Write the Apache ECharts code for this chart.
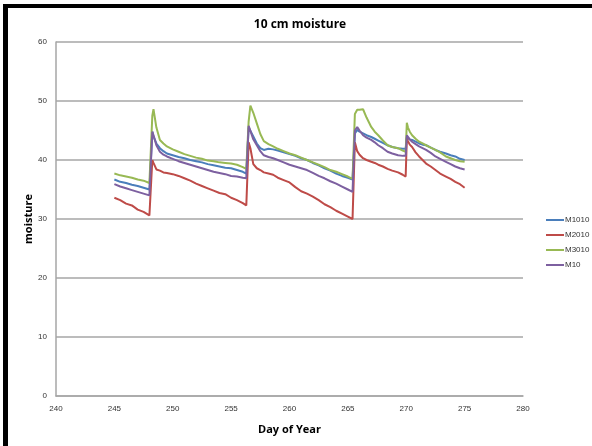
<!DOCTYPE html>
<html>
<head>
<meta charset="utf-8">
<script src="https://cdn.jsdelivr.net/npm/echarts@6/dist/echarts.min.js"></script>
<style>
  html, body { margin: 0; padding: 0; background: #fff; }
  #main { position: absolute; left: 0; top: 0; width: 592px; height: 446px; }
  .frame { position: absolute; background: #000; }
</style>
</head>
<body>
<div id="main"></div>
<div class="frame" style="left:3px; top:4px; width:5px; height:442px;"></div>
<div class="frame" style="left:3px; top:4px; width:589px; height:4px;"></div>
<script>
// day of year (shared by all four sensors)
var days = [245.0, 245.5, 246.0, 246.5, 247.0, 247.5, 248.0, 248.15, 248.25, 248.35,
  248.6, 248.9, 249.2, 249.5, 250.0, 250.5, 251.0, 251.5, 252.0, 252.5,
  253.0, 253.5, 254.0, 254.5, 255.0, 255.5, 256.0, 256.3, 256.4, 256.5,
  256.65, 256.9, 257.2, 257.5, 257.8, 258.2, 258.6, 259.0, 259.5, 260.0,
  260.5, 261.0, 261.5, 262.0, 262.5, 263.0, 263.5, 264.0, 264.5, 265.0,
  265.4, 265.5, 265.6, 265.8, 266.0, 266.3, 266.6, 267.0, 267.3, 267.6,
  268.0, 268.4, 268.8, 269.3, 269.7, 269.95, 270.05, 270.15, 270.3, 270.5,
  270.8, 271.1, 271.4, 271.7, 272.1, 272.5, 272.9, 273.4, 273.8, 274.2,
  274.6, 275.0];

var m1010 = [36.7, 36.3, 36.1, 35.8, 35.6, 35.3, 35.0, 34.9, 44.8, 44.0,
  42.8, 42.0, 41.5, 41.1, 40.8, 40.5, 40.3, 40.0, 39.8, 39.6,
  39.3, 39.1, 38.9, 38.7, 38.6, 38.3, 38.0, 37.7, 37.6, 45.5,
  45.6, 44.0, 42.8, 42.0, 41.7, 41.9, 41.8, 41.6, 41.3, 41.0,
  40.7, 40.3, 40.0, 39.5, 39.1, 38.6, 38.2, 37.7, 37.3, 37.0,
  36.7, 36.6, 44.5, 45.1, 44.8, 44.5, 44.2, 43.9, 43.6, 43.3,
  42.9, 42.5, 42.2, 42.0, 41.9, 41.9, 43.9, 43.7, 43.5, 43.4,
  43.1, 42.8, 42.6, 42.5, 42.1, 41.7, 41.4, 41.1, 40.8, 40.6,
  40.2, 40.0];

var m2010 = [33.6, 33.2, 32.6, 32.3, 31.6, 31.2, 30.6, 30.4, 40.0, 39.5,
  38.4, 38.2, 37.9, 37.8, 37.6, 37.3, 36.9, 36.5, 36.0, 35.6,
  35.2, 34.8, 34.4, 34.2, 33.6, 33.2, 32.7, 32.3, 32.1, 43.0,
  42.0, 39.3, 38.6, 38.3, 37.9, 37.7, 37.5, 37.0, 36.6, 36.2,
  35.4, 34.7, 34.3, 33.8, 33.2, 32.5, 32.0, 31.4, 30.9, 30.4,
  30.0, 29.9, 43.0, 41.5, 40.9, 40.3, 40.0, 39.7, 39.5, 39.2,
  38.9, 38.5, 38.2, 37.9, 37.5, 37.2, 43.7, 43.2, 42.6, 42.2,
  41.3, 40.6, 40.0, 39.4, 38.9, 38.3, 37.7, 37.2, 36.8, 36.3,
  35.9, 35.3];

var m3010 = [37.7, 37.4, 37.2, 37.0, 36.7, 36.5, 36.1, 36.0, 47.5, 48.6,
  45.5, 43.4, 42.8, 42.3, 41.8, 41.4, 41.0, 40.7, 40.4, 40.2,
  39.9, 39.8, 39.6, 39.5, 39.4, 39.2, 38.8, 38.5, 38.4, 46.5,
  49.2, 48.0, 46.2, 44.4, 43.2, 42.7, 42.3, 41.9, 41.5, 41.1,
  40.8, 40.4, 40.0, 39.6, 39.2, 38.8, 38.3, 38.0, 37.6, 37.2,
  36.8, 36.7, 47.8, 48.5, 48.5, 48.6, 47.2, 45.6, 44.8, 44.2,
  43.3, 42.5, 42.2, 42.0, 41.6, 41.4, 46.3, 45.5, 44.8, 44.2,
  43.6, 43.1, 42.8, 42.5, 42.1, 41.7, 41.3, 40.6, 40.3, 40.0,
  39.8, 39.7];

var m10 = [35.9, 35.5, 35.2, 34.9, 34.6, 34.3, 34.0, 33.9, 44.8, 44.2,
  42.5, 41.4, 40.9, 40.6, 40.2, 39.8, 39.5, 39.2, 38.9, 38.6,
  38.3, 38.0, 37.8, 37.6, 37.3, 37.2, 37.0, 36.9, 36.8, 45.8,
  45.5, 43.5, 42.5, 41.5, 40.8, 40.5, 40.3, 40.0, 39.6, 39.2,
  38.9, 38.6, 38.3, 37.8, 37.3, 36.9, 36.4, 36.0, 35.5, 35.0,
  34.6, 34.5, 45.0, 45.6, 45.0, 44.2, 43.8, 43.4, 43.0, 42.5,
  42.0, 41.4, 41.1, 40.8, 40.7, 40.7, 44.2, 43.9, 43.5, 43.1,
  42.7, 42.3, 42.0, 41.7, 41.2, 40.6, 40.2, 39.7, 39.3, 38.9,
  38.6, 38.4];

var names = ['M1010', 'M2010', 'M3010', 'M10'];
var colors = ['#4a7ebb', '#be4b48', '#98b954', '#7d60a0'];
var values = [m1010, m2010, m3010, m10];

function pairs(v) {
  return days.map(function (d, i) { return [d, v[i]]; });
}

var chart = echarts.init(document.getElementById('main'));

var series = names.map(function (n, i) {
  return {
    name: n,
    type: 'line',
    data: pairs(values[i]),
    showSymbol: false,
    symbol: 'none',
    animation: false,
    lineStyle: { color: colors[i], width: 2 },
    itemStyle: { color: colors[i] }
  };
});

chart.setOption({
  animation: false,
  title: {
    text: '10 cm moisture',
    left: 295,
    top: 14,
    textAlign: 'center',
    textStyle: { fontFamily: 'Open Sans', fontSize: 12, fontWeight: 'bold', color: '#000' }
  },
  legend: {
    orient: 'vertical',
    left: 541,
    top: 210,
    icon: 'rect',
    itemWidth: 18,
    itemHeight: 2,
    itemGap: 5,
    data: names,
    textStyle: { fontFamily: 'Liberation Sans', fontSize: 8, color: '#333', padding: [0, 0, 0, -4], lineHeight: 10 }
  },
  grid: { left: 56, right: 69, top: 42, bottom: 50, containLabel: false },
  xAxis: {
    type: 'value',
    min: 240,
    max: 280,
    interval: 5,
    name: 'Day of Year',
    nameLocation: 'middle',
    nameGap: 28,
    nameMoveOverlap: false,
    nameTextStyle: { fontFamily: 'Open Sans', fontSize: 11, fontWeight: 'bold', color: '#000' },
    axisLine: { show: true, lineStyle: { color: '#a6a6a6', width: 1.5 } },
    axisTick: { show: false },
    splitLine: { show: false },
    axisLabel: { fontFamily: 'Liberation Sans', fontSize: 8, color: '#333', margin: 9 }
  },
  yAxis: {
    type: 'value',
    min: 0,
    max: 60,
    interval: 10,
    name: 'moisture',
    nameLocation: 'middle',
    nameGap: 22,
    nameMoveOverlap: false,
    nameTextStyle: { fontFamily: 'Open Sans', fontSize: 11, fontWeight: 'bold', color: '#000' },
    axisLine: { show: true, lineStyle: { color: '#a6a6a6', width: 1.5 } },
    axisTick: { show: false },
    splitLine: { show: true, lineStyle: { color: '#a6a6a6', width: 1.5 } },
    axisLabel: { fontFamily: 'Liberation Sans', fontSize: 8, color: '#333', margin: 9 }
  },
  series: series
});
</script>
</body>
</html>
